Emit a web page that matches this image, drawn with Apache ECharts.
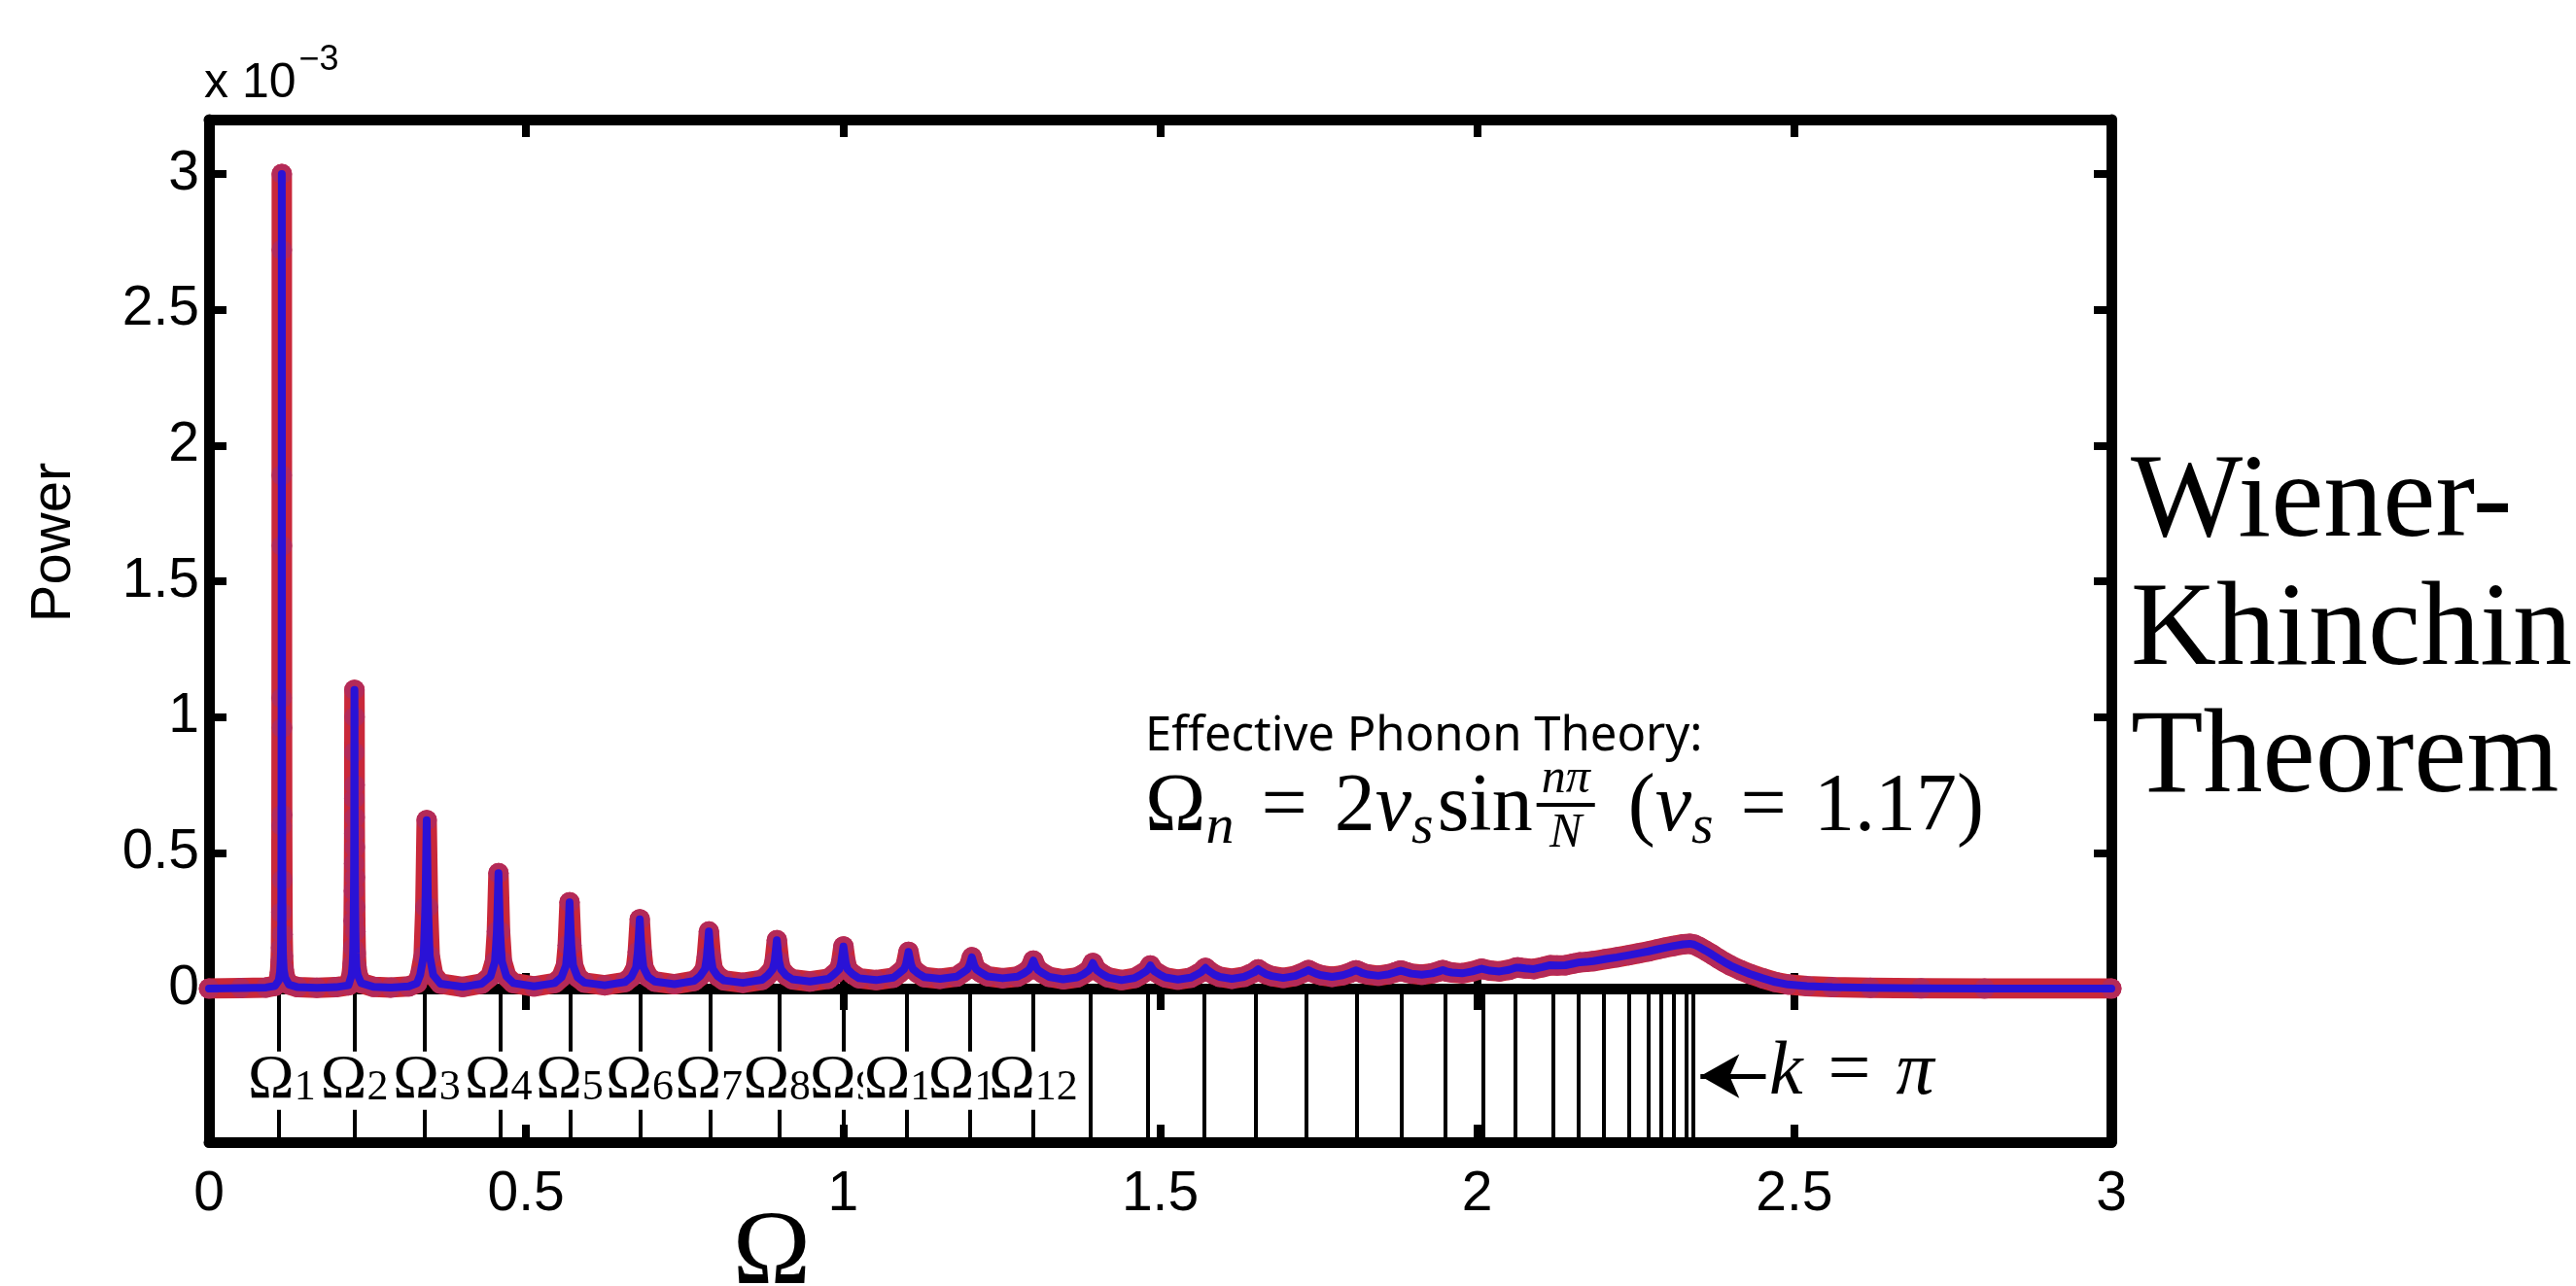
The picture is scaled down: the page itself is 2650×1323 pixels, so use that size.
<!DOCTYPE html>
<html><head><meta charset="utf-8">
<script src="https://cdn.jsdelivr.net/npm/echarts@6/dist/echarts.min.js"></script>
<style>html,body{margin:0;padding:0;background:#fff}#c{width:2650px;height:1323px}</style>
</head><body><div id="c"></div>
<script>
// ---------------- data ----------------
const xTickValues = [0, 0.5, 1, 1.5, 2, 2.5, 3];
const yTickValues = [0, 0.5, 1, 1.5, 2, 2.5, 3];
const modeOmega = [0.1148, 0.2294, 0.3433, 0.4565, 0.5686, 0.6793, 0.7883, 0.8955, 1.0005, 1.1031,
  1.2030, 1.3000, 1.3939, 1.4845, 1.5715, 1.6546, 1.7338, 1.8088, 1.8795, 1.9456,
  2.0071, 2.0637, 2.1153, 2.1619, 2.2032, 2.2392, 2.2699, 2.2950, 2.3147, 2.3287, 2.3372, 2.3400];
const modeLabels = ['1','2','3','4','5','6','7','8','9','10','11','12'];
// power spectrum [Omega, power in units of 1e-3]
const spectrum = [
 [0,0.000],[0.050,0.002],[0.090,0.004],[0.104,0.010],
 [0.1100,0.03],[0.1120,0.06],[0.1130,0.10],[0.1136,0.15],[0.1140,0.28],[0.1143,0.60],[0.1145,1.07],[0.1147,1.89],
 [0.1148,3.00],[0.1149,2.72],[0.1150,1.63],[0.1152,0.96],[0.1154,0.64],[0.1157,0.40],[0.1161,0.20],[0.1167,0.12],
 [0.1178,0.07],[0.1200,0.04],[0.1260,0.015],[0.1400,0.005],[0.1700,0.003],[0.2000,0.005],[0.2200,0.012],
 [0.2250,0.05],[0.2265,0.09],[0.2275,0.15],[0.2281,0.25],[0.2285,0.36],[0.2288,0.46],[0.2290,0.57],[0.2291,0.70],[0.2292,0.87],
 [0.2294,1.10],[0.2296,1.00],[0.2297,0.75],[0.2298,0.63],[0.2300,0.52],[0.2302,0.41],[0.2305,0.30],[0.2309,0.21],[0.2315,0.13],
 [0.2325,0.08],[0.2345,0.05],[0.2400,0.02],[0.2600,0.006],[0.2870,0.004],[0.3150,0.008],[0.3280,0.02],
 [0.3330,0.05],[0.3385,0.12],[0.3412,0.30],[0.3433,0.62],[0.3454,0.30],[0.3481,0.12],[0.3536,0.05],[0.3650,0.018],[0.4000,0.006],[0.4300,0.018],
 [0.4440,0.045],[0.4510,0.10],[0.4540,0.21],[0.4565,0.425],[0.4590,0.21],[0.4620,0.10],[0.4690,0.045],[0.4800,0.02],[0.5125,0.008],[0.5450,0.02],
 [0.5560,0.042],[0.5630,0.085],[0.5658,0.16],[0.5686,0.318],[0.5714,0.16],[0.5742,0.085],[0.5812,0.042],[0.5920,0.022],[0.6240,0.012],[0.6560,0.024],
 [0.6660,0.043],[0.6735,0.078],[0.6762,0.135],[0.6793,0.255],[0.6824,0.135],[0.6851,0.078],[0.6926,0.043],[0.7030,0.026],[0.7340,0.016],[0.7650,0.028],
 [0.7745,0.046],[0.7822,0.072],[0.7850,0.115],[0.7883,0.21],[0.7916,0.115],[0.7944,0.072],[0.8021,0.046],[0.8120,0.03],[0.8420,0.021],[0.8720,0.032],
 [0.8810,0.049],[0.8890,0.071],[0.8920,0.10],[0.8955,0.178],[0.8990,0.10],[0.9020,0.071],[0.9100,0.049],[0.9200,0.034],[0.9480,0.026],[0.9770,0.036],
 [0.9860,0.053],[0.9940,0.071],[0.9968,0.094],[1.0005,0.155],[1.0042,0.094],[1.0070,0.071],[1.0150,0.053],[1.0250,0.038],[1.0520,0.031],[1.0790,0.040],
 [1.0880,0.056],[1.0962,0.072],[1.0992,0.090],[1.1031,0.135],[1.1070,0.090],[1.1100,0.072],[1.1182,0.056],[1.1280,0.042],[1.1530,0.036],[1.1790,0.044],
 [1.1880,0.058],[1.1960,0.071],[1.1992,0.085],[1.2030,0.115],[1.2068,0.085],[1.2100,0.071],[1.2180,0.058],[1.2280,0.045],[1.2515,0.038],[1.2750,0.044],
 [1.2850,0.056],[1.2930,0.069],[1.2962,0.081],[1.3000,0.103],[1.3038,0.081],[1.3070,0.069],[1.3150,0.056],[1.3250,0.043],[1.3470,0.034],[1.3690,0.041],
 [1.3790,0.053],[1.3870,0.066],[1.3902,0.076],[1.3939,0.094],[1.3976,0.076],[1.4008,0.066],[1.4088,0.053],[1.4180,0.041],[1.4390,0.031],[1.4600,0.039],
 [1.4700,0.052],[1.4775,0.063],[1.4808,0.071],[1.4845,0.085],[1.4882,0.071],[1.4915,0.063],[1.4990,0.052],[1.5080,0.041],[1.5280,0.033],[1.5480,0.040],
 [1.5580,0.052],[1.5650,0.061],[1.5680,0.068],[1.5715,0.076],[1.5750,0.068],[1.5780,0.061],[1.5850,0.052],[1.5940,0.043],[1.6130,0.036],[1.6320,0.043],
 [1.6420,0.053],[1.6485,0.060],[1.6513,0.065],[1.6546,0.071],[1.6579,0.065],[1.6607,0.060],[1.6672,0.053],[1.6760,0.046],[1.6940,0.039],[1.7120,0.046],
 [1.7220,0.055],[1.7280,0.061],[1.7307,0.064],[1.7338,0.068],[1.7369,0.064],[1.7396,0.061],[1.7456,0.055],[1.7540,0.049],[1.7710,0.043],[1.7880,0.049],
 [1.7995,0.058],[1.8040,0.063],[1.8064,0.065],[1.8088,0.067],[1.8112,0.065],[1.8136,0.063],[1.8181,0.058],[1.8270,0.052],[1.8440,0.047],[1.8610,0.053],
 [1.8710,0.060],[1.8750,0.063],[1.8772,0.065],[1.8795,0.066],[1.8818,0.065],[1.8840,0.063],[1.8880,0.060],[1.8960,0.055],[1.9125,0.051],[1.9290,0.056],
 [1.9380,0.062],[1.9420,0.065],[1.9456,0.068],[1.9492,0.065],[1.9530,0.062],[1.9600,0.059],[1.9760,0.056],[1.9920,0.063],
 [2.0040,0.071],[2.0071,0.073],[2.0100,0.071],[2.0200,0.066],[2.0350,0.063],[2.0500,0.069],[2.0610,0.077],[2.0637,0.079],[2.0665,0.077],
 [2.0760,0.074],[2.0890,0.072],[2.1030,0.079],[2.1153,0.086],[2.1260,0.085],[2.1390,0.086],[2.1520,0.092],[2.1619,0.097],[2.1720,0.098],
 [2.1830,0.101],[2.2032,0.109],[2.2200,0.115],[2.2392,0.123],[2.2550,0.130],[2.2699,0.137],[2.2850,0.145],[2.2950,0.150],[2.3100,0.157],
 [2.3250,0.163],[2.3350,0.165],[2.3420,0.162],[2.3500,0.153],[2.3600,0.140],[2.3700,0.126],[2.3800,0.111],[2.3900,0.097],[2.4000,0.084],
 [2.4150,0.068],[2.4300,0.054],[2.4500,0.038],[2.4700,0.024],[2.4900,0.015],[2.5200,0.009],[2.5600,0.005],[2.6200,0.003],[2.7000,0.001],
 [2.8000,0.000],[3.0000,0.000]
];

// ---------------- layout helpers ----------------
const SERIF = '"Liberation Serif","DejaVu Serif",serif';
const SANS = '"Liberation Sans",Arial,sans-serif';
const mctx = document.createElement('canvas').getContext('2d');
function textW(t, size, italic, fam) {
  mctx.font = (italic ? 'italic ' : '') + size + 'px ' + (fam || SERIF);
  return mctx.measureText(t).width;
}
function run(pieces, x0, yc, fam) {
  const out = [];
  let x = x0;
  pieces.forEach(p => {
    x += (p.dx || 0);
    if (p.frac) {
      const wn = textW(p.num, p.s, true, fam), wd = textW(p.den, p.s, true, fam);
      const wf = Math.max(wn, wd) + 10;
      out.push({type:'text', x: x + wf/2, y: yc + p.ny, style:{text:p.num, fontSize:p.s, fontStyle:'italic', fontFamily:fam||SERIF, fill:'#000', align:'center', verticalAlign:'middle'}});
      out.push({type:'text', x: x + wf/2, y: yc + p.dy2, style:{text:p.den, fontSize:p.s, fontStyle:'italic', fontFamily:fam||SERIF, fill:'#000', align:'center', verticalAlign:'middle'}});
      out.push({type:'line', shape:{x1:x, y1:yc + p.by, x2:x + wf, y2:yc + p.by}, style:{stroke:'#000', lineWidth:4}});
      x += wf;
      return;
    }
    out.push({type:'text', x: x, y: yc + (p.dy || 0), style:{text:p.t, fontSize:p.s, fontStyle:p.it ? 'italic' : 'normal', fontFamily:fam||SERIF, fill:'#000', align:'left', verticalAlign:'middle'}});
    x += textW(p.t, p.s, p.it, fam);
  });
  return out;
}

const M = 84, S = 58, F = 50;
const formula = run([
  {t:'Ω', s:M},
  {t:'n', s:S, it:1, dy:20},
  {t:'=', s:M, dx:28},
  {t:'2', s:M, dx:28},
  {t:'v', s:M, it:1},
  {t:'s', s:S, it:1, dy:20},
  {t:'sin', s:M, dx:4},
  {frac:1, num:'nπ', den:'N', s:F, ny:-30, dy2:26, by:-4, dx:4},
  {t:'(', s:M, dx:34},
  {t:'v', s:M, it:1},
  {t:'s', s:S, it:1, dy:20},
  {t:'=', s:M, dx:28},
  {t:'1.17', s:M, dx:28},
  {t:')', s:M}
], 1178, 832);

const kpi = run([
  {t:'k', s:78, it:1},
  {t:'=', s:78, dx:26},
  {t:'π', s:78, it:1, dx:26}
], 1820, 1104);

const expo = run([
  {t:'x 10', s:50},
  {t:'−3', s:36, dy:-24, dx:3}
], 210, 86, SANS);

// ---------------- chart ----------------
const chart = echarts.init(document.getElementById('c'));
const GL = 215, GR = 2650 - 2172, TOP = 123, ZERO = 1017, BOT = 1175;
const frameW = 11;
const axisLineStyle = {color:'#000', width:frameW};
const LABEL_FS = 57;
function xAx(grid, pos, showLabel, tickLen) {
  return {type:'value', gridIndex:grid, position:pos, min:0, max:3, interval:0.5,
    axisLine:{show:true, onZero:false, lineStyle:axisLineStyle},
    axisTick:{show:true, inside:true, length:tickLen, lineStyle:{color:'#000', width:8}},
    axisLabel:{show:showLabel, fontSize:LABEL_FS, color:'#000', fontFamily:SANS, margin:26},
    splitLine:{show:false}};
}
function yAx(grid, pos, showLabel, ticks) {
  const o = {type:'value', gridIndex:grid, position:pos,
    axisLine:{show:true, onZero:false, lineStyle:axisLineStyle},
    axisTick:{show:ticks, inside:true, length:18, lineStyle:{color:'#000', width:8}},
    axisLabel:{show:showLabel, fontSize:LABEL_FS, color:'#000', fontFamily:SANS, margin:10, showMaxLabel:false},
    splitLine:{show:false}};
  if (grid === 0) { o.min = 0; o.max = 3.2; o.interval = 0.5; } else { o.min = 0; o.max = 1; }
  return o;
}

chart.setOption({
  backgroundColor:'#fff',
  animation:false,
  grid:[
    {left:GL, right:GR, top:TOP, height:ZERO - TOP},
    {left:GL, right:GR, top:ZERO, height:BOT - ZERO}
  ],
  xAxis:[xAx(0,'bottom',false,16), xAx(0,'top',false,18), xAx(1,'bottom',true,18), xAx(1,'top',false,22)],
  yAxis:[yAx(0,'left',true,true), yAx(0,'right',false,true), yAx(1,'left',false,false), yAx(1,'right',false,false)],
  series:[
    {type:'line', xAxisIndex:0, yAxisIndex:0, data:spectrum, z:3, clip:true,
     symbol:'circle', symbolSize:21, showAllSymbol:true,
     itemStyle:{color:'#b42a58'},
     lineStyle:{color:'#c9283a', width:21, cap:'round', join:'round'}},
    {type:'line', xAxisIndex:0, yAxisIndex:0, data:spectrum, z:4, clip:true, symbol:'none',
     lineStyle:{color:'#2a12d6', width:8, cap:'round', join:'round'}},
    {type:'scatter', xAxisIndex:2, yAxisIndex:2, data:[], z:3,
     markLine:{silent:true, z:3, symbol:['none','none'], label:{show:false},
       lineStyle:{color:'#000', width:4, type:'solid'},
       emphasis:{disabled:true},
       data:modeOmega.map(v => ({xAxis:v}))}},
    {type:'scatter', xAxisIndex:2, yAxisIndex:2, z:10, symbol:'circle', symbolSize:0,
     itemStyle:{color:'rgba(0,0,0,0)'},
     data:modeOmega.slice(0, modeLabels.length).map(v => [v, 0.40]),
     emphasis:{disabled:true},
     labelLayout:{hideOverlap:false},
     label:{show:true, position:'inside', align:'center', verticalAlign:'middle',
       backgroundColor:'#fff', padding:[0,1,0,1], color:'#000', opacity:1,
       textBorderWidth:0, textShadowBlur:0,
       formatter:p => '{o|Ω}{s|' + modeLabels[p.dataIndex] + '}',
       rich:{o:{fontFamily:SERIF, fontSize:64, color:'#000', lineHeight:60, verticalAlign:'middle', textBorderWidth:0},
             s:{fontFamily:SERIF, fontSize:44, color:'#000', lineHeight:44, padding:[14,0,0,0], verticalAlign:'bottom', textBorderWidth:0}}}},
    {type:'scatter', xAxisIndex:2, yAxisIndex:2, data:[], z:6,
     markLine:{silent:true, symbol:['none','arrow'], symbolSize:[34,40], label:{show:false},
       lineStyle:{color:'#000', width:5, type:'solid'},
       data:[[{coord:[2.455, 0.43]}, {coord:[2.352, 0.43]}]]}}
  ],
  graphic:[].concat(
    formula, kpi, expo,
    [
      {type:'text', x:56, y:558, rotation:Math.PI/2, style:{text:'Power', fontSize:58, fontFamily:SANS, fill:'#000', align:'center', verticalAlign:'middle'}},
      {type:'text', x:794, y:1292, style:{text:'Ω', fontSize:108, fontFamily:SERIF, fill:'#000', align:'center', verticalAlign:'middle'}},
      {type:'text', x:1178, y:758, style:{text:'Effective Phonon Theory:', fontSize:49, fontFamily:'"Noto Sans","Open Sans",sans-serif', fill:'#000', align:'left', verticalAlign:'middle'}},
      {type:'text', x:2192, y:519, style:{text:'Wiener-', fontSize:122, fontFamily:SERIF, fill:'#000', align:'left', verticalAlign:'middle'}},
      {type:'text', x:2192, y:651, style:{text:'Khinchin', fontSize:122, fontFamily:SERIF, fill:'#000', align:'left', verticalAlign:'middle'}},
      {type:'text', x:2192, y:782, style:{text:'Theorem', fontSize:122, fontFamily:SERIF, fill:'#000', align:'left', verticalAlign:'middle'}}
    ])
});
</script></body></html>
